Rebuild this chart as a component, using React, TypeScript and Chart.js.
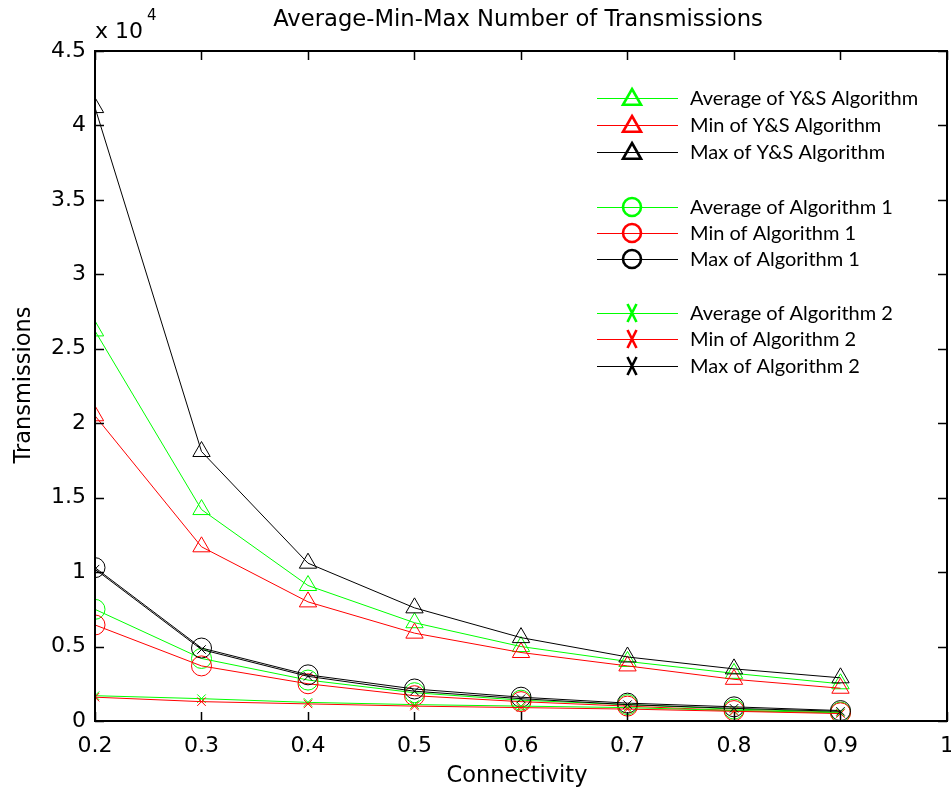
import React, { useEffect, useRef } from "react";
import { Chart, registerables } from "chart.js";

Chart.register(...registerables);

const connectivity = [0.2, 0.3, 0.4, 0.5, 0.6, 0.7, 0.8, 0.9];
const xTicks = [0.2, 0.3, 0.4, 0.5, 0.6, 0.7, 0.8, 0.9, 1];
const yTicks = [0, 5000, 10000, 15000, 20000, 25000, 30000, 35000, 40000, 45000];

const avgYS = [26200, 14200, 9100, 6600, 5000, 4000, 3200, 2500];
const minYS = [20500, 11700, 8000, 5900, 4600, 3700, 2800, 2200];
const maxYS = [41200, 18100, 10600, 7600, 5600, 4300, 3500, 2900];
const avgA1 = [7500, 4200, 2750, 1900, 1400, 1100, 800, 600];
const minA1 = [6450, 3700, 2500, 1700, 1300, 1000, 700, 550];
const maxA1 = [10300, 4900, 3100, 2150, 1600, 1200, 950, 700];
const avgA2 = [1700, 1500, 1250, 1100, 1000, 900, 700, 550];
const minA2 = [1600, 1300, 1150, 1000, 900, 800, 650, 500];
const maxA2 = [10200, 4800, 3000, 2000, 1500, 1100, 850, 650];

const GREEN = "#00ff00";
const RED = "#ff0000";
const BLACK = "#000000";

const seriesDefs = [
  { label: "Average of Y&S Algorithm", data: avgYS, color: GREEN, marker: "triangle" },
  { label: "Min of Y&S Algorithm", data: minYS, color: RED, marker: "triangle" },
  { label: "Max of Y&S Algorithm", data: maxYS, color: BLACK, marker: "triangle" },
  { label: "Average of Algorithm 1", data: avgA1, color: GREEN, marker: "circle" },
  { label: "Min of Algorithm 1", data: minA1, color: RED, marker: "circle" },
  { label: "Max of Algorithm 1", data: maxA1, color: BLACK, marker: "circle" },
  { label: "Average of Algorithm 2", data: avgA2, color: GREEN, marker: "crossRot" },
  { label: "Min of Algorithm 2", data: minA2, color: RED, marker: "crossRot" },
  { label: "Max of Algorithm 2", data: maxA2, color: BLACK, marker: "crossRot" },
];

const TICK_FONT = "DejaVu Sans";

const drawMarker = (ctx: CanvasRenderingContext2D, style: string, x: number, y: number, r: number) => {
  ctx.beginPath();
  if (style === "triangle") {
    ctx.moveTo(x, y - r);
    ctx.lineTo(x + r * 1.0, y + r * 0.75);
    ctx.lineTo(x - r * 1.0, y + r * 0.75);
    ctx.closePath();
  } else if (style === "circle") {
    ctx.arc(x, y, r, 0, Math.PI * 2);
  } else {
    ctx.moveTo(x - r * 0.5, y - r);
    ctx.lineTo(x + r * 0.5, y + r);
    ctx.moveTo(x + r * 0.5, y - r);
    ctx.lineTo(x - r * 0.5, y + r);
  }
  ctx.stroke();
};

const decorPlugin = {
  id: "matlabDecor",
  afterDraw(chart: any) {
    const { ctx, chartArea } = chart;
    const { left, right, top, bottom } = chartArea;
    const xs = chart.scales.x;
    const ys = chart.scales.y;
    ctx.save();
    // box
    ctx.strokeStyle = "#000";
    ctx.lineWidth = 2;
    ctx.strokeRect(left, top, right - left, bottom - top);
    // inward ticks
    ctx.lineWidth = 1.5;
    const tl = 9;
    ctx.beginPath();
    xTicks.forEach((v) => {
      const px = Math.round(xs.getPixelForValue(v)) + 0.5;
      ctx.moveTo(px, bottom);
      ctx.lineTo(px, bottom - tl);
      ctx.moveTo(px, top);
      ctx.lineTo(px, top + tl);
    });
    yTicks.forEach((v) => {
      const py = Math.round(ys.getPixelForValue(v)) + 0.5;
      ctx.moveTo(left, py);
      ctx.lineTo(left + tl, py);
      ctx.moveTo(right, py);
      ctx.lineTo(right - tl, py);
    });
    ctx.stroke();

    // title
    ctx.fillStyle = "#000";
    ctx.textAlign = "center";
    ctx.textBaseline = "middle";
    ctx.font = `22.7px ${TICK_FONT}`;
    ctx.fillText("Average-Min-Max Number of Transmissions", 518, 20);
    // axis titles
    ctx.font = `22.5px ${TICK_FONT}`;
    ctx.fillText("Connectivity", 517, 776);
    ctx.save();
    ctx.translate(24, 385);
    ctx.rotate(-Math.PI / 2);
    ctx.fillText("Transmissions", 0, 0);
    ctx.restore();
    // exponent
    ctx.textAlign = "left";
    ctx.font = `22px ${TICK_FONT}`;
    ctx.fillText("x 10", 95, 32);
    ctx.font = `15px ${TICK_FONT}`;
    ctx.fillText("4", 147, 16);

    // legend
    const rowsY = [98, 125, 152, 207, 233, 259, 313, 339, 366];
    ctx.font = "20px Lato";
    ctx.textBaseline = "middle";
    chart.data.datasets.forEach((ds: any, i: number) => {
      const y = rowsY[i];
      ctx.strokeStyle = ds.borderColor;
      ctx.lineWidth = 1;
      ctx.beginPath();
      ctx.moveTo(597, y + 0.5);
      ctx.lineTo(678, y + 0.5);
      ctx.stroke();
      ctx.lineWidth = 2.6;
      drawMarker(ctx, ds.pointStyle, 632, y, 9);
      ctx.fillStyle = "#000";
      ctx.textAlign = "left";
      ctx.fillText(ds.label, 690, y + 1);
    });
    ctx.restore();
  },
};

export default function App() {
  const ref = useRef<HTMLCanvasElement>(null);
  useEffect(() => {
    document.body.style.margin = "0";
    const datasets = seriesDefs.map((s, i) => ({
      label: s.label,
      data: connectivity.map((x, k) => ({ x, y: s.data[k] })),
      borderColor: s.color,
      backgroundColor: "rgba(0,0,0,0)",
      borderWidth: 1,
      pointStyle: s.marker,
      pointRadius: s.marker === "crossRot" ? 6 : 10,
      pointBorderWidth: 1,
      pointBorderColor: s.color,
      pointBackgroundColor: "rgba(0,0,0,0)",
      tension: 0,
      fill: false,
      order: 100 - i,
    }));
    const chart = new Chart(ref.current!, {
      type: "line",
      data: { datasets },
      options: {
        animation: false,
        responsive: false,
        maintainAspectRatio: false,
        layout: { autoPadding: false, padding: { left: 0, right: 4, top: 51, bottom: 0 } },
        plugins: { legend: { display: false }, title: { display: false }, tooltip: { enabled: false } },
        scales: {
          x: {
            type: "linear",
            min: 0.2,
            max: 1,
            grid: { display: false, drawTicks: false },
            border: { display: false },
            ticks: {
              padding: 12,
              color: "#000",
              font: { family: TICK_FONT, size: 22 },
              maxRotation: 0,
              autoSkip: false,
              callback: (v: any) => String(Math.round(Number(v) * 10) / 10),
            },
            afterBuildTicks: (scale: any) => {
              scale.ticks = xTicks.map((v) => ({ value: v }));
            },
            afterFit: (scale: any) => {
              scale.height = 71;
              scale.paddingLeft = 0;
              scale.paddingRight = 0;
            },
          },
          y: {
            type: "linear",
            min: 0,
            max: 45000,
            grid: { display: false, drawTicks: false },
            border: { display: false },
            ticks: {
              padding: 9,
              color: "#000",
              font: { family: TICK_FONT, size: 22 },
              autoSkip: false,
              callback: (v: any) => String(Number(v) / 10000),
            },
            afterBuildTicks: (scale: any) => {
              scale.ticks = yTicks.map((v) => ({ value: v }));
            },
            afterFit: (scale: any) => {
              scale.width = 95;
              scale.paddingTop = 0;
              scale.paddingBottom = 0;
            },
          },
        },
      },
      plugins: [decorPlugin],
    });
    return () => chart.destroy();
  }, []);
  return <canvas ref={ref} width={951} height={792} style={{ display: "block", background: "#fff" }} />;
}
